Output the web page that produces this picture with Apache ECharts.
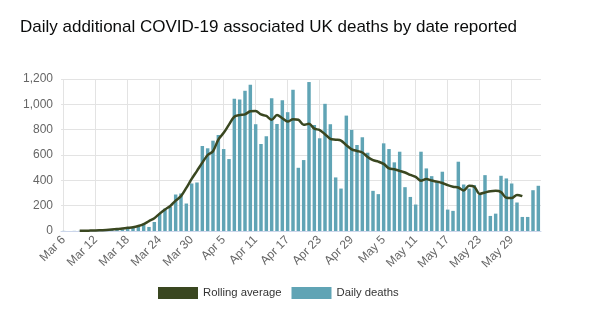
<!DOCTYPE html>
<html>
<head>
<meta charset="utf-8">
<script src="https://cdn.jsdelivr.net/npm/echarts@6/dist/echarts.min.js"></script>
<style>
html,body{margin:0;padding:0;background:#fff;}
#chart{width:615px;height:327px;}
</style>
</head>
<body>
<div id="chart"></div>
<script>
// Dates: Mar 6 .. Jun 3 (90 days)
const months = [['Mar', 6, 31], ['Apr', 1, 30], ['May', 1, 31], ['Jun', 1, 3]];
const categories = [];
months.forEach(([m, a, b]) => { for (let d = a; d <= b; d++) categories.push(m + ' ' + d); });

const dailyDeaths = [
  1, 0, 1, 1, 1, 2, 1, 3, 5, 8,
  10, 13, 18, 26, 37, 58, 32, 71, 137, 177,
  190, 288, 296, 217, 375, 383, 671, 653, 713, 758,
  647, 568, 1044, 1038, 1107, 1155, 843, 687, 748, 1049,
  845, 1033, 938, 1115, 499, 560, 1176, 837, 732, 1004,
  843, 423, 335, 911, 798, 679, 740, 618, 317, 291,
  692, 647, 542, 626, 346, 269, 209, 626, 494, 433,
  388, 468, 169, 159, 547, 367, 335, 362, 288, 441,
  119, 137, 436, 415, 375, 225, 111, 111, 322, 357
];

const rollingAverage = [
  null, null, null, 2, 2, 3, 4, 6, 8, 11,
  15, 20, 25, 30, 40, 55, 78, 101, 137, 170,
  198, 240, 275, 340, 411, 475, 540, 600, 630, 722,
  775, 840, 902, 915, 921, 945, 948, 920, 908, 878,
  915, 890, 864, 882, 878, 838, 846, 808, 797, 764,
  727, 721, 714, 677, 645, 632, 620, 585, 560, 548,
  530, 494, 487, 475, 462, 443, 427, 396, 411, 398,
  390, 379, 362, 349, 343, 320, 357, 350, 293, 304,
  314, 317, 307, 262, 260, 285, 275, null, null, null
];

const yTicks = [0, 200, 400, 600, 800, 1000, 1200];

const FONT = 'Liberation Sans, Arial, sans-serif';
const chart = echarts.init(document.getElementById('chart'), null, { renderer: 'canvas' });
chart.setOption({
  animation: false,
  backgroundColor: '#ffffff',
  title: {
    text: 'Daily additional COVID-19 associated UK deaths by date reported',
    left: 20, top: 19, padding: 0,
    textStyle: { fontSize: 17, fontWeight: 'normal', color: '#0b0c0c', fontFamily: FONT }
  },
  legend: {
    top: 287, left: 158, padding: 0,
    itemWidth: 40, itemHeight: 12, itemGap: 10,
    textStyle: { fontSize: 11.3, color: '#333333', fontFamily: FONT },
    data: [
      { name: 'Rolling average', icon: 'rect', itemStyle: { color: '#3a4720' } },
      { name: 'Daily deaths', icon: 'rect', itemStyle: { color: '#60a4b5' } }
    ]
  },
  grid: { left: 61, right: 74, top: 79, bottom: 96 },
  xAxis: {
    type: 'category',
    data: categories,
    boundaryGap: true,
    axisLine: { show: true, lineStyle: { color: '#ccd6eb' } },
    axisTick: { show: false },
    splitLine: { show: true, interval: 5, alignWithLabel: true, lineStyle: { color: '#e3e3e3', width: 1 } },
    axisLabel: {
      interval: 5, rotate: 45, margin: 7,
      fontSize: 12, color: '#666666', fontFamily: FONT
    }
  },
  yAxis: {
    type: 'value',
    min: yTicks[0], max: yTicks[yTicks.length - 1], interval: 200,
    axisLine: { show: false }, axisTick: { show: false },
    splitLine: { lineStyle: { color: '#e3e3e3', width: 1 } },
    axisLabel: {
      margin: 8, fontSize: 12, color: '#666666', fontFamily: FONT,
      formatter: v => v.toLocaleString('en-US')
    }
  },
  series: [
    {
      name: 'Daily deaths', type: 'bar', data: dailyDeaths,
      barCategoryGap: '35%',
      itemStyle: { color: '#60a4b5' }, z: 2
    },
    {
      name: 'Rolling average', type: 'line', data: rollingAverage,
      showSymbol: false, symbol: 'none', smooth: 0.3, connectNulls: false,
      lineStyle: { color: '#3a4720', width: 2.5 },
      itemStyle: { color: '#3a4720' }, z: 3
    }
  ]
});
</script>
</body>
</html>
